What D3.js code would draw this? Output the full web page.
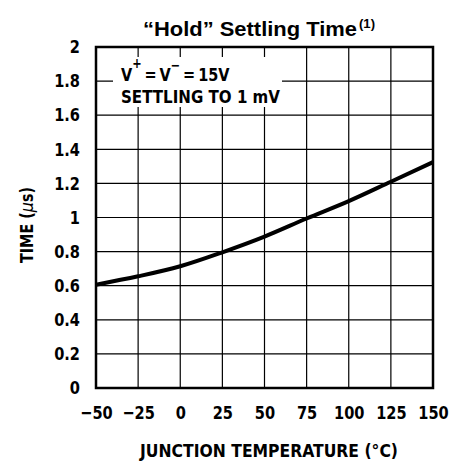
<!DOCTYPE html>
<html><head><meta charset="utf-8">
<script src="https://cdn.jsdelivr.net/npm/d3@7"></script>
<style>
html,body{margin:0;padding:0;background:#fff;}
svg{display:block;}
.cond{font-family:"Liberation Sans Narrow","DejaVu Sans Condensed","Arial Narrow",sans-serif;font-weight:bold;fill:#000;}
</style></head>
<body>
<svg id="chart" width="455" height="461"></svg>
<script>
const temps = [-50, -25, 0, 25, 50, 75, 100, 125, 150];
const times = [0.606, 0.655, 0.714, 0.796, 0.888, 0.994, 1.096, 1.21, 1.325];
const xTicks = [-50, -25, 0, 25, 50, 75, 100, 125, 150];
const xTickLabels = ["\u221250", "\u221225", "0", "25", "50", "75", "100", "125", "150"];
const yTicks = [0, 0.2, 0.4, 0.6, 0.8, 1, 1.2, 1.4, 1.6, 1.8, 2];
const yTickLabels = ["0", "0.2", "0.4", "0.6", "0.8", "1", "1.2", "1.4", "1.6", "1.8", "2"];

const W = 455, H = 461;
const m = {left: 96, right: 22, top: 47, bottom: 73};
const svg = d3.select("#chart");
const x = d3.scaleLinear().domain([-50, 150]).range([m.left, W - m.right]);
const y = d3.scaleLinear().domain([0, 2]).range([H - m.bottom, m.top]);

function squeeze(sel, f) {
  sel.each(function() {
    const w = this.getComputedTextLength();
    d3.select(this).attr("textLength", w * f).attr("lengthAdjust", "spacingAndGlyphs");
  });
}
function fit(sel, w) {
  sel.attr("textLength", w).attr("lengthAdjust", "spacingAndGlyphs");
}

// grid
const g = svg.append("g");
g.selectAll("line.v").data(xTicks.slice(1, -1)).enter().append("line")
  .attr("x1", d => x(d)).attr("x2", d => x(d))
  .attr("y1", y(0)).attr("y2", y(2))
  .attr("stroke", "#000").attr("stroke-width", 1.2);
g.selectAll("line.h").data(yTicks.slice(1, -1)).enter().append("line")
  .attr("y1", d => y(d)).attr("y2", d => y(d))
  .attr("x1", x(-50)).attr("x2", x(150))
  .attr("stroke", "#000").attr("stroke-width", 1.2);

// annotation box background
svg.append("rect").attr("x", 113).attr("y", 57).attr("width", 169).attr("height", 50).attr("fill", "#fff");
const ann = svg.append("g").attr("class", "cond");
const TS = "\u2009";
const t1 = ann.append("text").attr("x", 0).attr("y", 0).attr("font-size", 18)
  .html(`V<tspan dy="-13" font-size="14">+</tspan><tspan dy="13">${TS}=${TS}V</tspan><tspan dy="-11" font-size="14">\u2212</tspan><tspan dy="11">${TS}=${TS}15V</tspan>`);
const w1 = t1.node().getBBox().width;
t1.attr("transform", `translate(121,80.5) scale(${109 / w1},1)`);
fit(ann.append("text").attr("x", 121).attr("y", 103).attr("font-size", 18).text("SETTLING TO 1 mV"), 159);

// border
svg.append("rect").attr("x", x(-50)).attr("y", y(2))
  .attr("width", x(150) - x(-50)).attr("height", y(0) - y(2))
  .attr("fill", "none").attr("stroke", "#000").attr("stroke-width", 2.5);

// curve
const line = d3.line().x((d, i) => x(temps[i])).y(d => y(d)).curve(d3.curveMonotoneX);
svg.append("path").datum(times).attr("d", line)
  .attr("fill", "none").attr("stroke", "#000").attr("stroke-width", 4).attr("stroke-linecap", "butt");

// axes labels
const xAxis = d3.axisBottom(x).tickValues(xTicks).tickSize(0).tickPadding(16)
  .tickFormat((d, i) => xTickLabels[i]);
const xa = svg.append("g").attr("transform", `translate(0,${y(0)})`).call(xAxis);
xa.select(".domain").remove();
xa.selectAll("text").attr("class", "cond").attr("font-size", 18).attr("dy", "0.71em").attr("y", 18);
squeeze(xa.selectAll("text"), 0.9);

const yAxis = d3.axisLeft(y).tickValues(yTicks).tickSize(0).tickPadding(16)
  .tickFormat((d, i) => yTickLabels[i]);
const ya = svg.append("g").attr("transform", `translate(${x(-50)},0)`).call(yAxis);
ya.select(".domain").remove();
ya.selectAll("text").attr("class", "cond").attr("font-size", 18);
squeeze(ya.selectAll("text"), 0.9);

// titles
const tf = "'Liberation Sans', Arial, Helvetica, sans-serif";
fit(svg.append("text").attr("x", 143).attr("y", 36)
  .attr("font-family", tf).attr("font-weight", "bold").attr("font-size", 20)
  .text("\u201CHold\u201D Settling Time"), 214);
fit(svg.append("text").attr("x", 359).attr("y", 28)
  .attr("font-family", tf).attr("font-weight", "bold").attr("font-size", 13)
  .text("(1)"), 16);

svg.append("text").attr("class", "cond").attr("x", 269).attr("y", 457).attr("text-anchor", "middle")
  .attr("font-size", 18).attr("textLength", 258).attr("lengthAdjust", "spacingAndGlyphs")
  .text("JUNCTION TEMPERATURE (\u00B0C)");

svg.append("text").attr("class", "cond").attr("transform", "translate(33,225) rotate(-90)")
  .attr("text-anchor", "middle").attr("font-size", 17).attr("textLength", 76).attr("lengthAdjust", "spacingAndGlyphs")
  .html('TIME (<tspan font-style="italic" font-family="DejaVu Sans" font-weight="normal">\u03BC</tspan>s)');
</script>
</body></html>
